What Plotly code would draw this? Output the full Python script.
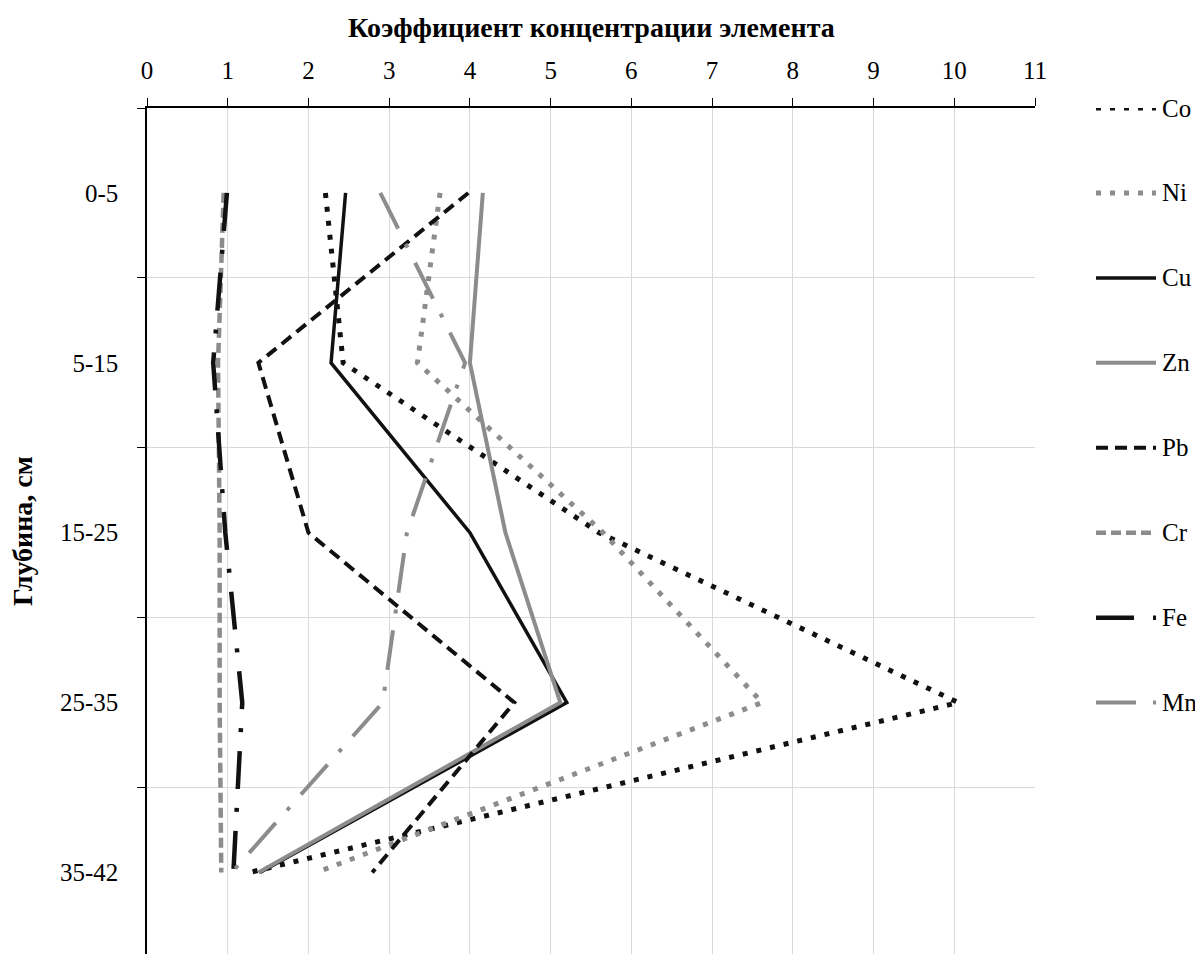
import plotly.graph_objects as go

# depth intervals (top to bottom) and concentration coefficients
depths = ["0-5", "5-15", "15-25", "25-35", "35-42"]
co = [2.21, 2.43, 5.60, 10.05, 1.27]
ni = [3.63, 3.35, 5.65, 7.62, 2.10]
cu = [2.46, 2.28, 4.00, 5.20, 1.40]
zn = [4.16, 4.00, 4.44, 5.12, 1.38]
pb = [3.98, 1.38, 2.00, 4.55, 2.79]
cr = [0.95, 0.88, 0.90, 0.90, 0.92]
fe = [0.99, 0.82, 0.97, 1.18, 1.07]
mn = [2.89, 3.94, 3.22, 2.92, 1.05]

x_ticks = list(range(0, 12))

BLACK = "#111111"
GRAY = "#8c8c8c"
SERIF = "Liberation Serif, Times New Roman, serif"

series = [
    ("Co", co, BLACK, "5px,9px", 5),
    ("Ni", ni, GRAY, "5px,9px", 5),
    ("Cu", cu, BLACK, "solid", 3.5),
    ("Zn", zn, GRAY, "solid", 4),
    ("Pb", pb, BLACK, "12px,7px", 4),
    ("Cr", cr, GRAY, "10px,5px", 4.5),
    ("Fe", fe, BLACK, "38px,19px,4px,19px", 4.5),
    ("Mn", mn, GRAY, "40px,17px,4px,17px", 4),
]

fig = go.Figure()
for name, vals, color, dash, width in series:
    fig.add_trace(
        go.Scatter(
            x=vals, y=depths, mode="lines", name=name,
            line={"color": color, "dash": dash, "width": width},
            showlegend=False,
        )
    )

# hand-made legend down the right side, one entry every half category
for i, (name, vals, color, dash, width) in enumerate(series):
    yy = -0.5 + 0.5 * i
    fig.add_shape(
        type="line", xref="paper", yref="y",
        x0=1.0687, x1=1.1363, y0=yy, y1=yy,
        line={"color": color, "dash": dash, "width": width},
    )
    fig.add_annotation(
        xref="paper", yref="y", x=1.1408, y=yy, text=name,
        showarrow=False, xanchor="left", yanchor="middle",
        font={"family": SERIF, "size": 25, "color": "black"},
    )

fig.add_annotation(
    xref="paper", yref="paper", x=0.5, y=1.0946,
    text="<b>Коэффициент концентрации элемента</b>",
    showarrow=False, xanchor="center", yanchor="middle",
    font={"family": SERIF, "size": 28, "color": "black"},
)
fig.add_annotation(
    xref="paper", yref="paper", x=-0.1408, y=0.5,
    text="<b>Глубина, см</b>", textangle=-90,
    showarrow=False, xanchor="center", yanchor="middle",
    font={"family": SERIF, "size": 28, "color": "black"},
)

# page body has an 8px margin, so the figure is shrunk by that much
fig.update_layout(
    width=1195, height=946,
    margin={"l": 139, "r": 168, "t": 100, "b": 0},
    plot_bgcolor="white", paper_bgcolor="white",
    font={"family": SERIF, "size": 25, "color": "black"},
)
fig.update_xaxes(
    side="top", range=[0, 11], tickvals=x_ticks,
    ticks="outside", ticklen=8, tickcolor="black", tickwidth=1,
    showline=True, linecolor="black", linewidth=1.5,
    showgrid=True, gridcolor="#d9d9d9", gridwidth=1,
    zeroline=False, ticklabelstandoff=9,
)
fig.update_yaxes(
    type="category", categoryorder="array", categoryarray=depths,
    range=[4.48, -0.5], tickson="boundaries",
    ticks="outside", ticklen=8, tickcolor="black", tickwidth=1,
    showline=True, linecolor="black", linewidth=1.5,
    showgrid=True, gridcolor="#d9d9d9", gridwidth=1,
    ticklabelstandoff=22,
)

fig.write_html("out.html")
